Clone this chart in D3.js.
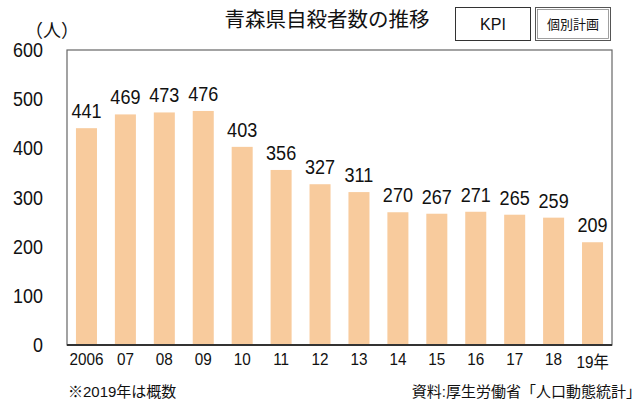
<!DOCTYPE html>
<html><head><meta charset="utf-8">
<script src="https://cdn.jsdelivr.net/npm/d3@7"></script>
<style>body{margin:0;background:#fff}svg{display:block}text{font-family:"Liberation Sans",Arial,"Noto Sans CJK JP",sans-serif;fill:#111}</style>
</head><body><svg id="c" width="643" height="403"></svg>
<script>
const categories = ["2006","07","08","09","10","11","12","13","14","15","16","17","18","19年"];
const values = [441,469,473,476,403,356,327,311,270,267,271,265,259,209];
const yTicks = [0,100,200,300,400,500,600];
const title = "青森県自殺者数の推移";
const unit = "（人）";
const note = "※2019年は概数";
const source = "資料:厚生労働省「人口動態統計」";

const svg = d3.select("#c");
const m = {l:67, r:612, t:50, b:345};
const x = d3.scaleBand().domain(categories).range([m.l, m.r]).paddingInner(0.46).paddingOuter(0.23);
const y = d3.scaleLinear().domain([0,600]).range([m.b, m.t]);

// frame
svg.append("rect").attr("x",m.l).attr("y",m.t).attr("width",m.r-m.l).attr("height",m.b-m.t)
  .attr("fill","none").attr("stroke","#666").attr("stroke-width",1.2);

// bars
svg.selectAll("rect.bar").data(values).join("rect").attr("class","bar")
  .attr("x",(d,i)=>x(categories[i])).attr("width",x.bandwidth())
  .attr("y",d=>y(d)).attr("height",d=>y(0)-y(d)).attr("fill","#F8CB9D");

// bottom axis line
svg.append("line").attr("x1",m.l).attr("x2",m.r).attr("y1",m.b).attr("y2",m.b).attr("stroke","#333").attr("stroke-width",2);

// y axis labels (narrow)
yTicks.forEach(t=>{
  svg.append("text").attr("transform",`translate(43,${y(t)+7}) scale(0.92,1)`)
    .attr("text-anchor","end").attr("font-size",19.5).text(t);
});

// x axis labels (narrow)
categories.forEach((c,i)=>{
  const cx = x(c)+x.bandwidth()/2;
  const yy = c==="19年" ? 368 : 365;
  svg.append("text").attr("transform",`translate(${cx},${yy}) scale(0.9,1)`)
    .attr("text-anchor","middle").attr("font-size",17).text(c);
});

// value labels (narrow)
values.forEach((v,i)=>{
  const cx = x(categories[i])+x.bandwidth()/2;
  svg.append("text").attr("transform",`translate(${cx},${y(v)-10}) scale(0.86,1)`)
    .attr("text-anchor","middle").attr("font-size",21).text(v);
});

// title
svg.append("text").attr("x",327).attr("y",27).attr("text-anchor","middle").attr("font-size",20.5).text(title);
svg.append("text").attr("x",52).attr("y",37).attr("text-anchor","middle").attr("font-size",18).text(unit);

// boxes
svg.append("rect").attr("x",455.5).attr("y",7.5).attr("width",75).attr("height",33).attr("fill","#fff").attr("stroke","#333");
svg.append("text").attr("x",493).attr("y",30).attr("text-anchor","middle").attr("font-size",16).text("KPI");
svg.append("rect").attr("x",535.5).attr("y",7.5).attr("width",75).attr("height",33).attr("fill","#fff").attr("stroke","#555").attr("stroke-width",1);
svg.append("rect").attr("x",537.5).attr("y",9.5).attr("width",71).attr("height",29).attr("fill","none").attr("stroke","#888").attr("stroke-width",0.8);
svg.append("text").attr("x",573).attr("y",29).attr("text-anchor","middle").attr("font-size",13).text("個別計画");

// footer
svg.append("text").attr("x",68).attr("y",397).attr("font-size",15).text(note);
svg.append("text").attr("x",641).attr("y",397).attr("text-anchor","end").attr("font-size",15).text(source);
</script></body></html>
